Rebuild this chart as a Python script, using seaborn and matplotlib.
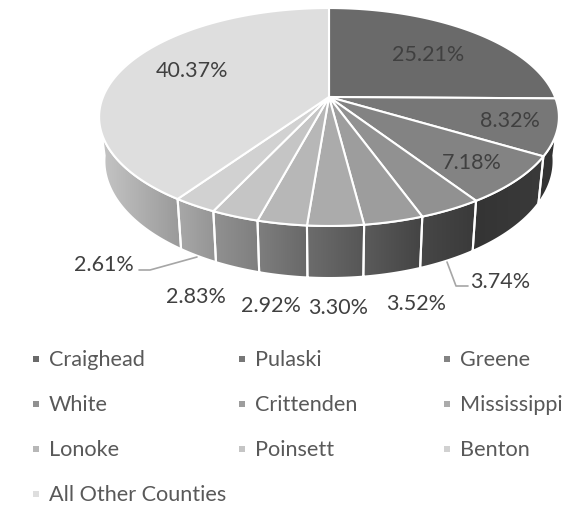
import numpy as np
import seaborn as sns
import matplotlib.pyplot as plt
from matplotlib.patches import Polygon

# county shares, clockwise from 12 o'clock
counties = ["Craighead", "Pulaski", "Greene", "White", "Crittenden", "Mississippi",
            "Lonoke", "Poinsett", "Benton", "All Other Counties"]
shares = [25.21, 8.32, 7.18, 3.74, 3.52, 3.30, 2.92, 2.83, 2.61, 40.37]

sns.set_theme(style="white")
plt.rcParams['font.family'] = ['Lato', 'DejaVu Sans']

top_colors = sns.blend_palette(["#6a6a6a", "#dedede"], len(shares))
wall_left = ["#333333", "#333333", "#343434", "#474747", "#5b5b5b", "#6c6c6c",
             "#7e7e7e", "#919191", "#a8a8a8", "#c4c4c4"]
wall_right = ["#333333", "#333333", "#3a3a3a", "#3a3a3a", "#444444", "#565656",
              "#686868", "#7f7f7f", "#949494", "#999999"]

# perspective of the tilted disc, in image pixels
hub_x, hub_y = 329, 97
rad_x, rad_y, tilt = 226, 105.3, 0.1835
drop, foot = 42.5, 0.977


def rim(theta, lower=False):
	u, v = np.sin(theta), np.cos(theta)
	w = 1 + tilt * v
	if lower:
		return hub_x + foot * rad_x * u / w, hub_y + (-rad_y * v + drop) / w
	return hub_x + rad_x * u / w, hub_y - rad_y * v / w


fig, ax = plt.subplots(figsize=(5.66, 5.05), dpi=100)
ax.set_position([0, 0, 1, 1])
ax.axis("off")

edges = np.radians(np.cumsum([0] + shares) * 3.6)

# side walls first, the silhouette runs between these angles on each rim
for i in range(len(shares)):
	top_t = np.linspace(max(edges[i], np.radians(109)), min(edges[i + 1], np.radians(251)), 80)
	low_t = np.linspace(max(edges[i], np.radians(98)), min(edges[i + 1], np.radians(262)), 80)
	if edges[i + 1] <= np.radians(98):
		continue
	tx, ty = rim(top_t)
	bx, by = rim(low_t, lower=True)
	xy = np.column_stack([np.r_[tx, bx[::-1]], np.r_[ty, by[::-1]]])
	poly = Polygon(xy, closed=True, fc="none", ec="none")
	ax.add_patch(poly)
	shade = np.array(sns.blend_palette([wall_left[i], wall_right[i]], 64))[None, :, :3]
	img = ax.imshow(shade, extent=[xy[:, 0].min(), xy[:, 0].max(), xy[:, 1].max(), xy[:, 1].min()],
		aspect="auto", zorder=1, interpolation="bilinear")
	img.set_clip_path(poly)
	ax.add_patch(Polygon(xy, closed=True, fc="none", ec="white", lw=1.5, zorder=2))

# top face
for i in range(len(shares)):
	t = np.linspace(edges[i], edges[i + 1], 120)
	tx, ty = rim(t)
	xy = np.column_stack([np.r_[hub_x, tx], np.r_[hub_y, ty]])
	ax.add_patch(Polygon(xy, closed=True, fc=top_colors[i], ec="white", lw=1.5,
		joinstyle="round", zorder=3))

# data labels
label_pos = [(428, 55), (510, 121), (472, 163), (500, 282), (416, 304),
             (338, 308), (271, 306), (196, 297), (104, 265), (192, 71)]
for share, (x, y) in zip(shares, label_pos):
	ax.text(x, y, "%.2f%%" % share, ha="center", va="center", fontsize=15.5,
		color="#404040", zorder=5)

# leader lines
ax.plot([447, 456, 468], [262, 286, 286], color="#a6a6a6", lw=1.2, zorder=4)
ax.plot([139, 150, 197], [270, 270, 257], color="#a6a6a6", lw=1.2, zorder=4)

# legend, filled row by row
legend_cols = [36, 242, 447]
legend_rows = [359, 404, 449, 494]
for i, name in enumerate(counties):
	x = legend_cols[i % 3]
	y = legend_rows[i // 3]
	ax.scatter([x], [y], marker="s", s=20, color=top_colors[i], linewidths=0, zorder=5)
	ax.text(x + 13, y + 1, name, ha="left", va="center", fontsize=15.6, color="#595959", zorder=5)

ax.set_xlim(0, 566)
ax.set_ylim(505, 0)
fig.savefig("out.png", dpi=100)
